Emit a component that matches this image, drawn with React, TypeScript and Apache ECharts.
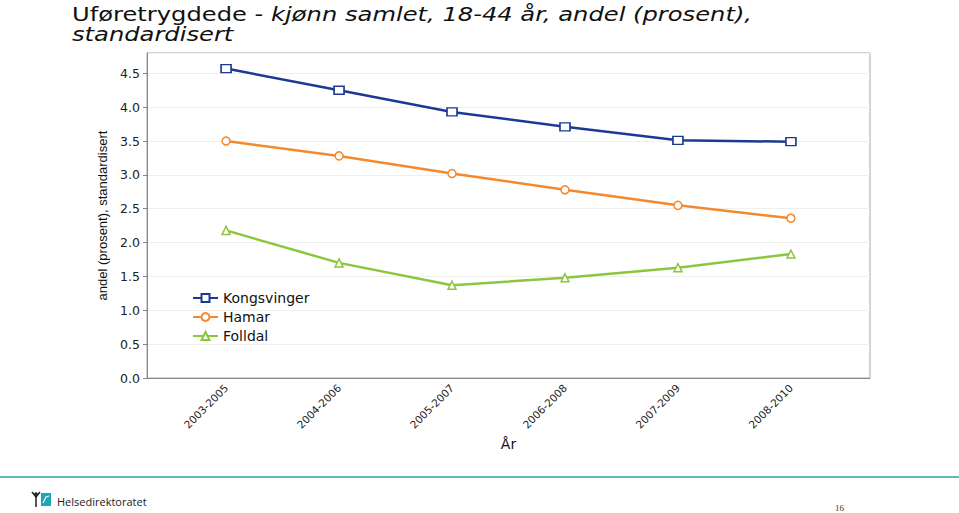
import React, { useEffect, useRef } from "react";
import * as echarts from "echarts";

const categories = ["2003-2005", "2004-2006", "2005-2007", "2006-2008", "2007-2009", "2008-2010"];
const kongsvinger = [4.57, 4.25, 3.93, 3.71, 3.51, 3.49];
const hamar = [3.5, 3.28, 3.02, 2.78, 2.55, 2.36];
const folldal = [2.18, 1.7, 1.37, 1.48, 1.63, 1.83];
const seriesNames = ["Kongsvinger", "Hamar", "Folldal"];

const toPairs = (arr: number[]) => arr.map((v, i) => [i, v]);

export default function App() {
  const ref = useRef<HTMLDivElement>(null);
  useEffect(() => {
    if (!ref.current) return;
    const chart = echarts.init(ref.current, null, { renderer: "svg" });
    const font = "Liberation Sans, Arial, sans-serif";
    const wide = "DejaVu Sans, Verdana, sans-serif";
    const mk = (name: string, data: number[], color: string, symbol: string, size: any) => ({
      name,
      type: "line",
      data: toPairs(data),
      symbol,
      symbolSize: size,
      showAllSymbol: true,
      lineStyle: { color, width: 2.5 },
      itemStyle: { color: "#ffffff", borderColor: color, borderWidth: 1.5 },
      emphasis: { disabled: true },
    });
    chart.setOption({
      animation: false,
      backgroundColor: "#ffffff",
      grid: {
        left: 147,
        right: 89,
        top: 53,
        bottom: 135,
        show: true,
        borderColor: "#a8a8a8",
        borderWidth: 1,
        containLabel: false,
      },
      legend: {
        orient: "vertical",
        left: 187,
        top: 286,
        itemWidth: 25,
        itemHeight: 10,
        itemGap: 5,
        data: seriesNames,
        textStyle: { fontFamily: wide, fontSize: 14, color: "#111" },
      },
      xAxis: {
        type: "value",
        min: -0.7,
        max: 5.7,
        interval: 0.1,
        name: "År",
        nameLocation: "middle",
        nameGap: 53,
        nameTextStyle: { fontFamily: wide, fontSize: 14, color: "#111" },
        axisLine: { show: true, onZero: false, lineStyle: { color: "#888" } },
        axisTick: { show: false },
        splitLine: { show: false },
        axisLabel: {
          rotate: 45,
          margin: 8,
          fontFamily: wide,
          fontSize: 10.5,
          color: "#222",
          formatter: (v: number) => {
            const r = Math.round(v);
            return Math.abs(v - r) < 1e-6 && categories[r] ? categories[r] : "";
          },
        },
      },
      yAxis: {
        type: "value",
        min: 0,
        max: 4.8,
        interval: 0.5,
        name: "andel (prosent), standardisert",
        nameLocation: "middle",
        nameGap: 36,
        nameRotate: 90,
        nameTextStyle: { fontFamily: font, fontSize: 13, color: "#111" },
        axisLine: { show: true, onZero: false, lineStyle: { color: "#888" } },
        axisTick: { show: true, length: 4, lineStyle: { color: "#888" } },
        splitLine: { show: true, lineStyle: { color: "#efefef" } },
        axisLabel: {
          margin: 7,
          fontFamily: wide,
          fontSize: 12.5,
          color: "#222",
          showMaxLabel: false,
          formatter: (v: number) => v.toFixed(1),
        },
      },
      series: [
        mk(seriesNames[0], kongsvinger, "#1c3a94", "rect", [10, 8]),
        mk(seriesNames[1], hamar, "#f4892e", "circle", 8),
        mk(seriesNames[2], folldal, "#8cc63f", "triangle", 8),
      ],
      graphic: [
        {
          type: "text",
          x: 72,
          y: 4,
          scaleX: 1.21,
          style: {
            text: "{n|Uføretrygdede - }{i|kjønn samlet, 18-44 år, andel (prosent),}",
            rich: {
              n: { fontFamily: wide, fontSize: 20, fontWeight: "normal", fill: "#111" },
              i: { fontFamily: wide, fontSize: 20, fontWeight: "normal", fontStyle: "italic", fill: "#111" },
            },
          },
        },
        {
          type: "text",
          x: 72,
          y: 24,
          scaleX: 1.21,
          style: {
            text: "standardisert",
            fontFamily: wide,
            fontSize: 20,
            fontStyle: "italic",
            fill: "#111",
          },
        },
        { type: "line", shape: { x1: 0, y1: 477, x2: 959, y2: 477 }, style: { stroke: "#5dbcb0", lineWidth: 2 } },
        { type: "rect", shape: { x: 41, y: 493, width: 10, height: 13 }, style: { fill: "#1aa7b8" } },
        { type: "circle", shape: { cx: 36, cy: 494, r: 1.8 }, style: { fill: "#222" } },
        { type: "polyline", shape: { points: [[32, 492], [36, 497], [40, 492]] }, style: { stroke: "#222", lineWidth: 1.5, fill: "none" } },
        { type: "polyline", shape: { points: [[36, 497], [36, 507]] }, style: { stroke: "#222", lineWidth: 1.5, fill: "none" } },
        { type: "polyline", shape: { points: [[43, 503], [46, 497], [49, 496]] }, style: { stroke: "#fff", lineWidth: 1.2, fill: "none" } },
        {
          type: "text",
          x: 57,
          y: 501,
          style: { text: "Helsedirektoratet", fontFamily: "Open Sans, sans-serif", fontSize: 11, fill: "#222", verticalAlign: "middle" },
        },
        {
          type: "text",
          x: 835,
          y: 508,
          style: { text: "16", fontFamily: "Liberation Serif, serif", fontSize: 9, fill: "#333", verticalAlign: "middle" },
        },
      ],
    });
    return () => chart.dispose();
  }, []);
  return <div ref={ref} style={{ position: "fixed", left: 0, top: 0, width: 959, height: 513 }} />;
}
